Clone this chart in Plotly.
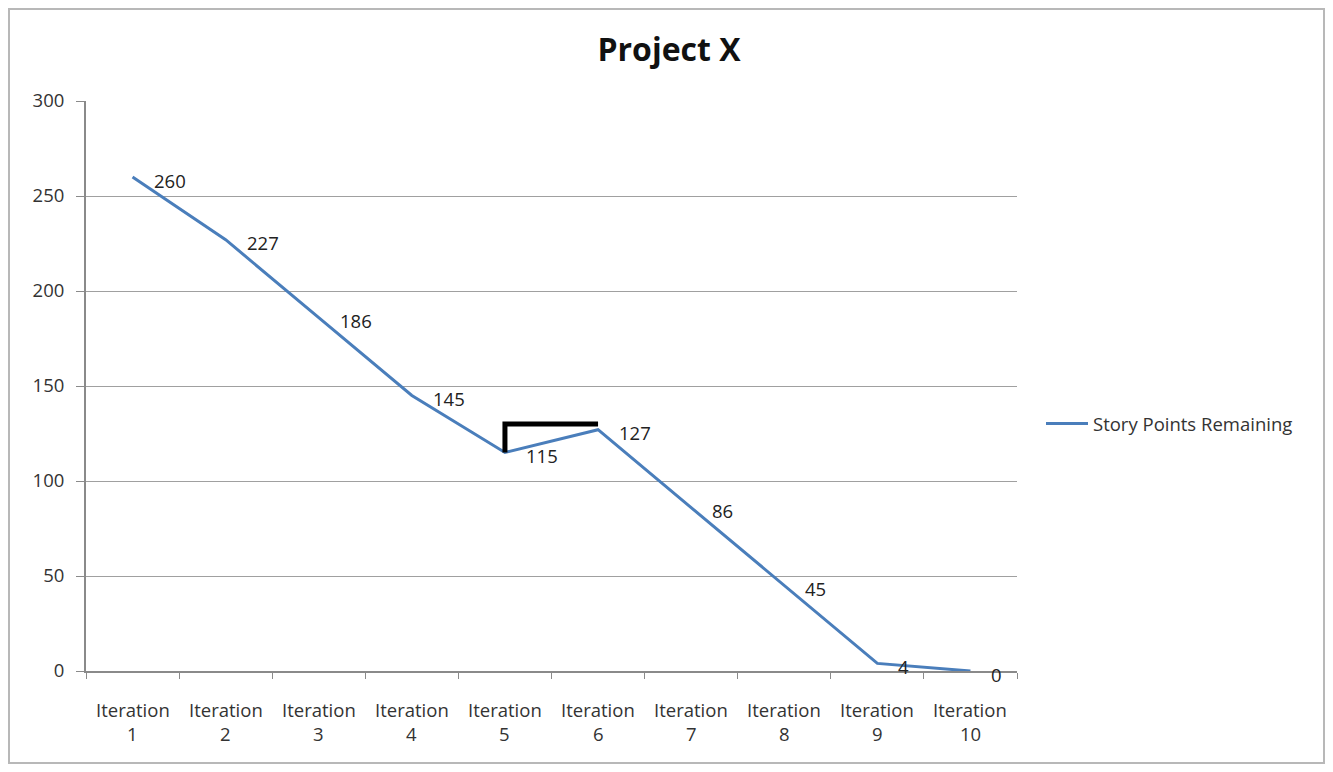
import plotly.graph_objects as go

categories = [f"Iteration {i}" for i in range(1, 11)]
story_points = [260, 227, 186, 145, 115, 127, 86, 45, 4, 0]
labels = [str(v) for v in story_points]
series_name = "Story Points Remaining"
title = "Project X"
y_ticks = [0, 50, 100, 150, 200, 250, 300]
# bracket drawn over iterations 5-6
bracket_cat_idx = [4, 4, 5]
bracket_y = [115, 130, 130]

FONT = "Open Sans, sans-serif"
TXT = "#333333"
FS = 18.5

# page has an 8px body margin; figure sized to fit 1333x772 viewport
W, H = 1317, 756
L, R, T, B = 78, 308, 93, 93
pw, ph = W - L - R, H - T - B

fig = go.Figure()
fig.add_trace(go.Scatter(
    x=categories, y=story_points, mode="lines", name=series_name,
    line=dict(color="#4A7EBB", width=3),
))
fig.add_trace(go.Scatter(
    x=[categories[i] for i in bracket_cat_idx], y=bracket_y, mode="lines",
    line=dict(color="black", width=5), showlegend=False, hoverinfo="skip",
))

# data labels
for c, v, t in zip(categories, story_points, labels):
    fig.add_annotation(x=c, y=v, text=t, showarrow=False, xanchor="left",
                       yanchor="middle", xshift=19, yshift=-3,
                       font=dict(family=FONT, size=FS, color="#222"))

# category labels (two rows like Excel)
for c in categories:
    word, num = c.split(" ")
    fig.add_annotation(x=c, y=0, yref="paper", text=word, showarrow=False,
                       yanchor="middle", yshift=-38,
                       font=dict(family=FONT, size=FS, color=TXT))
    fig.add_annotation(x=c, y=0, yref="paper", text=num, showarrow=False,
                       yanchor="middle", yshift=-62,
                       font=dict(family=FONT, size=FS, color=TXT))


def px_x(p):
    return (p - L) / pw


def px_y(p):
    return (H - B - p) / ph


fig.add_shape(type="rect", xref="paper", yref="paper",
              x0=px_x(1), x1=px_x(W - 1), y0=px_y(H - 1), y1=px_y(1),
              line=dict(color="#b8b8b8", width=2), layer="below")

fig.update_layout(
    width=W, height=H,
    margin=dict(l=L, r=R, t=T, b=B),
    paper_bgcolor="white", plot_bgcolor="white",
    title=dict(text=f"<b>{title}</b>", x=661 / W, xanchor="center",
               y=1 - 42 / H, yanchor="middle",
               font=dict(family=FONT, size=32, color="#111")),
    font=dict(family=FONT, size=FS, color=TXT),
    legend=dict(x=px_x(1033), y=px_y(416), xanchor="left", yanchor="middle",
                itemwidth=42,
                font=dict(family=FONT, size=FS, color=TXT),
                bgcolor="rgba(0,0,0,0)"),
    showlegend=True,
)
fig.update_xaxes(
    type="category", range=[-0.5, len(categories) - 0.5],
    tickson="boundaries", ticks="outside", ticklen=6,
    tickcolor="#8a8a8a", showline=True, linecolor="#8a8a8a", linewidth=2,
    showgrid=False, showticklabels=False,
)
fig.update_yaxes(
    range=[0, 300], tickvals=y_ticks, ticks="outside", ticklen=8,
    tickcolor="#8a8a8a", ticklabelstandoff=8,
    showline=True, linecolor="#8a8a8a", linewidth=2,
    showgrid=True, gridcolor="#a0a0a0", gridwidth=1, zeroline=False,
    tickfont=dict(family=FONT, size=FS, color=TXT),
)

fig.write_html("out.html")
